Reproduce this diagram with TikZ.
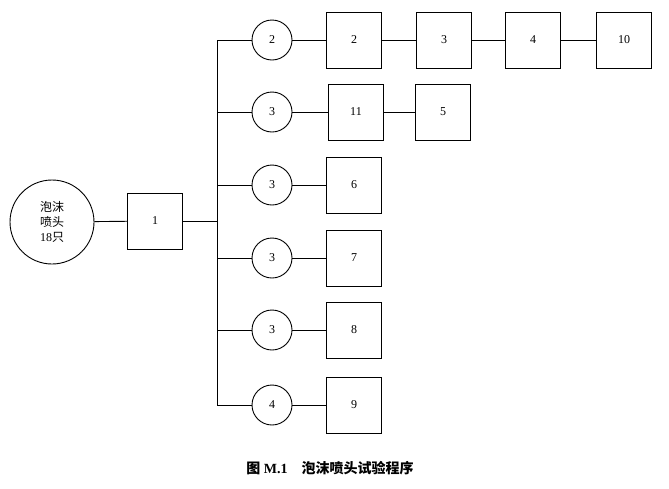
\documentclass[tikz,border=0pt]{standalone}
\usepackage{fontspec}
\setmainfont{Liberation Serif}
\newfontfamily\cjk{Noto Sans CJK SC}
\begin{document}
\begin{tikzpicture}[x=1pt,y=-1pt,line width=0.9pt,
 bx/.style={draw,minimum width=55pt,minimum height=56pt,inner sep=0pt,font=\fontsize{12}{14}\selectfont},
 ci/.style={draw,circle,minimum size=40pt,inner sep=0pt,font=\fontsize{12}{14}\selectfont},
 ln/.style={line width=0.9pt}]
\useasboundingbox (0,0) rectangle (669,488);
\node[draw,circle,minimum size=84pt,inner sep=0pt,align=center,font=\fontsize{12}{15}\selectfont] (s) at (52,222) {{\cjk 泡沫}\\{\cjk 喷头}\\18{\cjk 只}};
\node[bx] (b1) at (155,221) {1};
\coordinate (t) at (217,221);
\coordinate (ttop) at (217,40);
\coordinate (tbot) at (217,405);
\draw[ln] (s) -- (b1); \draw[ln] (b1) -- (t); \draw[ln] (ttop) -- (tbot);
\foreach \n/\y/\lab in {a/40/2,b/112/3,c/185/3,d/258/3,e/330/3,f/405/4}{
 \coordinate (j\n) at (217,\y);
 \node[ci] (c\n) at (272,\y) {\lab};
 \draw[ln] (j\n) -- (c\n);
}
\node[bx] (r2) at (354,40) {2};
\node[bx] (r3) at (444,40) {3};
\node[bx] (r4) at (533,40) {4};
\node[bx] (r10) at (624,40) {10};
\draw[ln] (ca) -- (r2) -- (r3) -- (r4) -- (r10);
\node[bx] (r11) at (356,112) {11};
\node[bx] (r5) at (443,112) {5};
\draw[ln] (cb) -- (r11) -- (r5);
\node[bx] (r6) at (354,185) {6}; \draw[ln] (cc) -- (r6);
\node[bx] (r7) at (354,258) {7}; \draw[ln] (cd) -- (r7);
\node[bx] (r8) at (354,330) {8}; \draw[ln] (ce) -- (r8);
\node[bx] (r9) at (354,405) {9}; \draw[ln] (cf) -- (r9);
\node[font=\fontsize{14}{16}\selectfont\bfseries] (cap) at (330,468) {{\cjk\bfseries 图} M.1\quad{\cjk\bfseries 泡沫喷头试验程序}};
\end{tikzpicture}
\end{document}
